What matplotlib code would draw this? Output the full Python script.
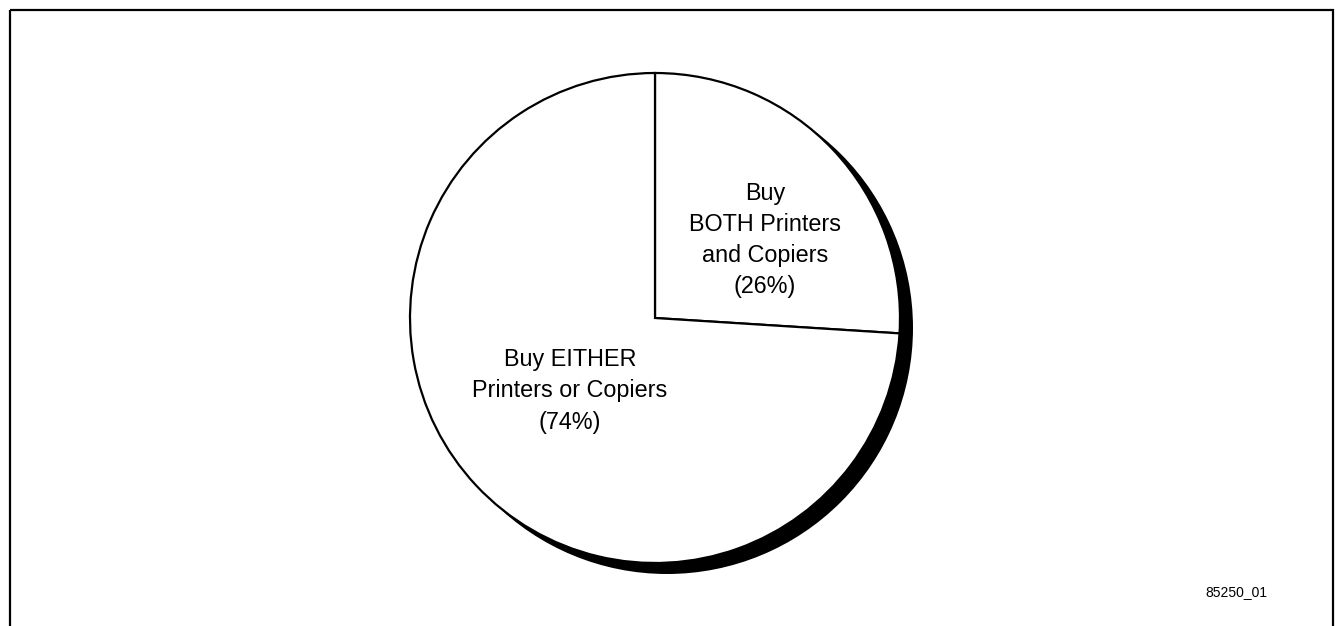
import matplotlib.pyplot as plt
from matplotlib.patches import Circle, Rectangle

plt.rcParams['font.family'] = ['Liberation Sans', 'DejaVu Sans']

# slice data
labels = ['Buy\nBOTH Printers\nand Copiers\n(26%)',
          'Buy EITHER\nPrinters or Copiers\n(74%)']
shares = [26, 74]
chart_id = '85250_01'

W, H = 1337, 626
fig = plt.figure(figsize=(W / 100, H / 100), dpi=100)
ax = fig.add_axes([0, 0, 1, 1])

cx, cy, r = 655, 318, 245

# drop shadow behind the pie
ax.add_patch(Circle((cx + 12, cy + 10), r + 1, facecolor='black', edgecolor='none', zorder=0))

# y axis is flipped (pixel style), so ccw in data is clockwise on screen
wedges, _ = ax.pie(shares, colors=['white', 'white'], startangle=-90, counterclock=True,
                   center=(cx, cy), radius=r, frame=True,
                   wedgeprops=dict(edgecolor='black', linewidth=1.6))
for w in wedges:
    w.set_zorder(2)

ax.text(765, 240, labels[0], ha='center', va='center', fontsize=16.8, linespacing=1.45, zorder=3)
ax.text(570, 391, labels[1], ha='center', va='center', fontsize=16.8, linespacing=1.45, zorder=3)
ax.text(1236, 592, chart_id, ha='center', va='center', fontsize=10)

# outer frame (bottom edge runs off the image)
ax.add_patch(Rectangle((10, 10), 1323, 700, facecolor='none', edgecolor='black',
                       linewidth=1.6, clip_on=False, zorder=4))

ax.set_xlim(0, W)
ax.set_ylim(H, 0)
ax.set_aspect('equal')
ax.axis('off')

fig.savefig('out.png', dpi=100)
